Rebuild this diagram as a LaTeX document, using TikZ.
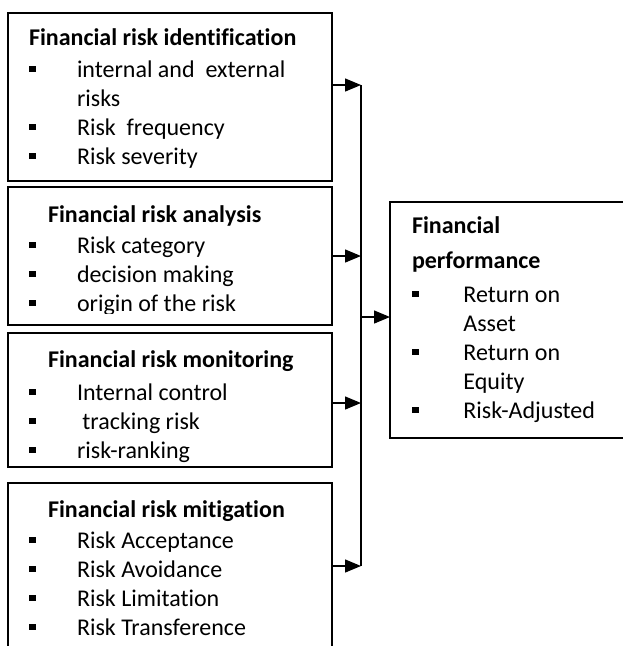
\documentclass[tikz,border=0pt]{standalone}
\usepackage{fontspec}
\setmainfont[Ligatures=NoCommon]{Carlito}
\usetikzlibrary{positioning,arrows.meta}

\newcommand{\bpt}[1][48pt]{\makebox[#1][l]{\rule[5pt]{6.5pt}{6.5pt}}}
\newcommand{\bcont}[1][48pt]{\hspace*{#1}}

\begin{document}
\begin{tikzpicture}[x=1pt,y=-1pt,every node/.style={inner sep=0pt,outer sep=0pt},riskbox/.style={draw,line width=2.2pt,rectangle,anchor=north west,minimum width=324pt},boxtext/.style={anchor=base west,font=\fontsize{24}{29}\selectfont},link/.style={line width=1.4pt,-{Triangle[length=16pt,width=13pt]}}]
\useasboundingbox (0,0) rectangle (623,646);
\clip (0,0) rectangle (623,646);
% left column of boxes
\node[riskbox,minimum height=168pt] (ident) at (8,13) {};
\node[boxtext] (identtxt) at (29,45) {\begin{tabular}[t]{@{}l@{}}\textbf{Financial risk identification}\\[3pt]
 \bpt internal and \ external\\ \bcont risks\\ \bpt Risk \ frequency\\ \bpt Risk severity\end{tabular}};
\node[riskbox,minimum height=138pt] (anal) at (8,187) {};
\begin{scope}
\clip (8,187) rectangle (332,313.5);
\node[boxtext] (analtxt) at (29,222) {\begin{tabular}[t]{@{}l@{}}\hspace*{19pt}\textbf{Financial risk analysis}\\[2pt]
 \bpt Risk category\\ \bpt decision making\\ \bpt origin of the risk\end{tabular}};
\end{scope}
\node[riskbox,minimum height=134pt] (monit) at (8,333) {};
\node[boxtext] (monittxt) at (29,367) {\begin{tabular}[t]{@{}l@{}}\hspace*{19pt}\textbf{Financial risk monitoring}\\[4pt]
 \bpt Internal control\\ \bpt \ tracking risk\\ \bpt risk-ranking\end{tabular}};
\node[riskbox,minimum height=200pt] (mitig) at (8,483) {};
\node[boxtext] (mitigtxt) at (29,517) {\begin{tabular}[t]{@{}l@{}}\hspace*{19pt}\textbf{Financial risk mitigation}\\[2pt]
 \bpt Risk Acceptance\\ \bpt Risk Avoidance\\ \bpt Risk Limitation\\ \bpt Risk Transference\end{tabular}};
% outcome box
\node[riskbox,minimum width=260pt,minimum height=236pt] (perf) at (390,202) {};
\node[boxtext] (perftxt) at (412,233) {\begin{tabular}[t]{@{}l@{}}\textbf{Financial}\\[6pt] \textbf{performance}\\[5pt]
 \bpt[46pt] Return on\\ \bcont[46pt] Asset\\ \bpt[46pt] Return on\\ \bcont[46pt] Equity\\ \bpt[46pt] Risk-Adjusted\end{tabular}};
% connectors
\coordinate (j1) at (361,85);
\coordinate (j2) at (361,256);
\coordinate (j3) at (361,403);
\coordinate (j4) at (361,566);
\coordinate (jm) at (361,317);
\draw[line width=1.4pt] (j1) -- (j4);
\draw[link] (ident.east |- j1) -- (j1);
\draw[link] (anal.east |- j2) -- (j2);
\draw[link] (monit.east |- j3) -- (j3);
\draw[link] (mitig.east |- j4) -- (j4);
\draw[link] (jm) -- (perf.west |- jm);
\end{tikzpicture}
\end{document}
